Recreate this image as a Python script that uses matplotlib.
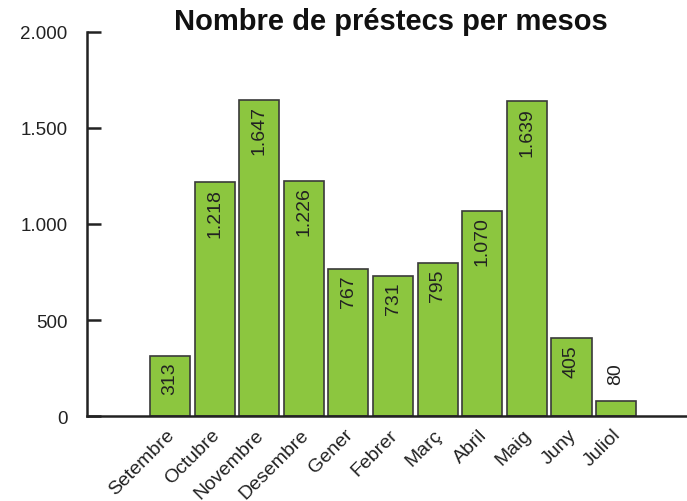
import matplotlib.pyplot as plt
import matplotlib.transforms as mtransforms

plt.rcParams['font.family'] = ['Liberation Sans', 'DejaVu Sans']

mesos = ['Setembre', 'Octubre', 'Novembre', 'Desembre', 'Gener', 'Febrer',
         'Març', 'Abril', 'Maig', 'Juny', 'Juliol']
prestecs = [313, 1218, 1647, 1226, 767, 731, 795, 1070, 1639, 405, 80]
yticks = [0, 500, 1000, 1500, 2000]
ylabels = ['0', '500', '1.000', '1.500', '2.000']

GREEN = '#8cc63f'
DARK = '#222222'


def fmt(v):
    return '{:,}'.format(v).replace(',', '.')


fig = plt.figure(figsize=(6.87, 5.02), dpi=100)
ax = fig.add_axes([87 / 687, 1 - 417 / 502, 1 - 87 / 687, (417 - 33) / 502])

x = list(range(len(mesos)))
ax.bar(x, prestecs, width=0.9, color=GREEN, edgecolor='#3a3a3a', linewidth=1.2, zorder=2)

for i, v in enumerate(prestecs):
    if v > 200:
        ax.annotate(fmt(v), (i, v), xytext=(0, -4), textcoords='offset points',
                    rotation=90, ha='center', va='top', fontsize=14, color=DARK)
    else:
        ax.annotate(fmt(v), (i, v), xytext=(0, 12), textcoords='offset points',
                    rotation=90, ha='center', va='bottom', fontsize=14, color=DARK)

ax.set_xlim(-1.86, 11.59)
ax.set_ylim(0, 2000)
ax.set_yticks(yticks)
ax.set_yticklabels(ylabels, fontsize=13.5, color=DARK)
ax.set_xticks(x)
ax.set_xticklabels(mesos, rotation=45, ha='right', rotation_mode='anchor',
                   fontsize=14, color=DARK)
ax.tick_params(axis='x', length=0, pad=7)
ax.tick_params(axis='y', direction='in', length=10, width=1.8, color=DARK, pad=14)

# nudge the month labels a little to the left
shift = mtransforms.ScaledTranslation(-4 / 100, 0, fig.dpi_scale_trans)
for lbl in ax.get_xticklabels():
    lbl.set_transform(lbl.get_transform() + shift)

for s in ['top', 'right']:
    ax.spines[s].set_visible(False)
for s in ['left', 'bottom']:
    ax.spines[s].set_color(DARK)
    ax.spines[s].set_linewidth(1.8)

fig.text(0.569, 0.957, 'Nombre de préstecs per mesos', ha='center', va='center',
         fontsize=21, fontweight='bold', color='#111111')

fig.savefig('out.png', dpi=100)
